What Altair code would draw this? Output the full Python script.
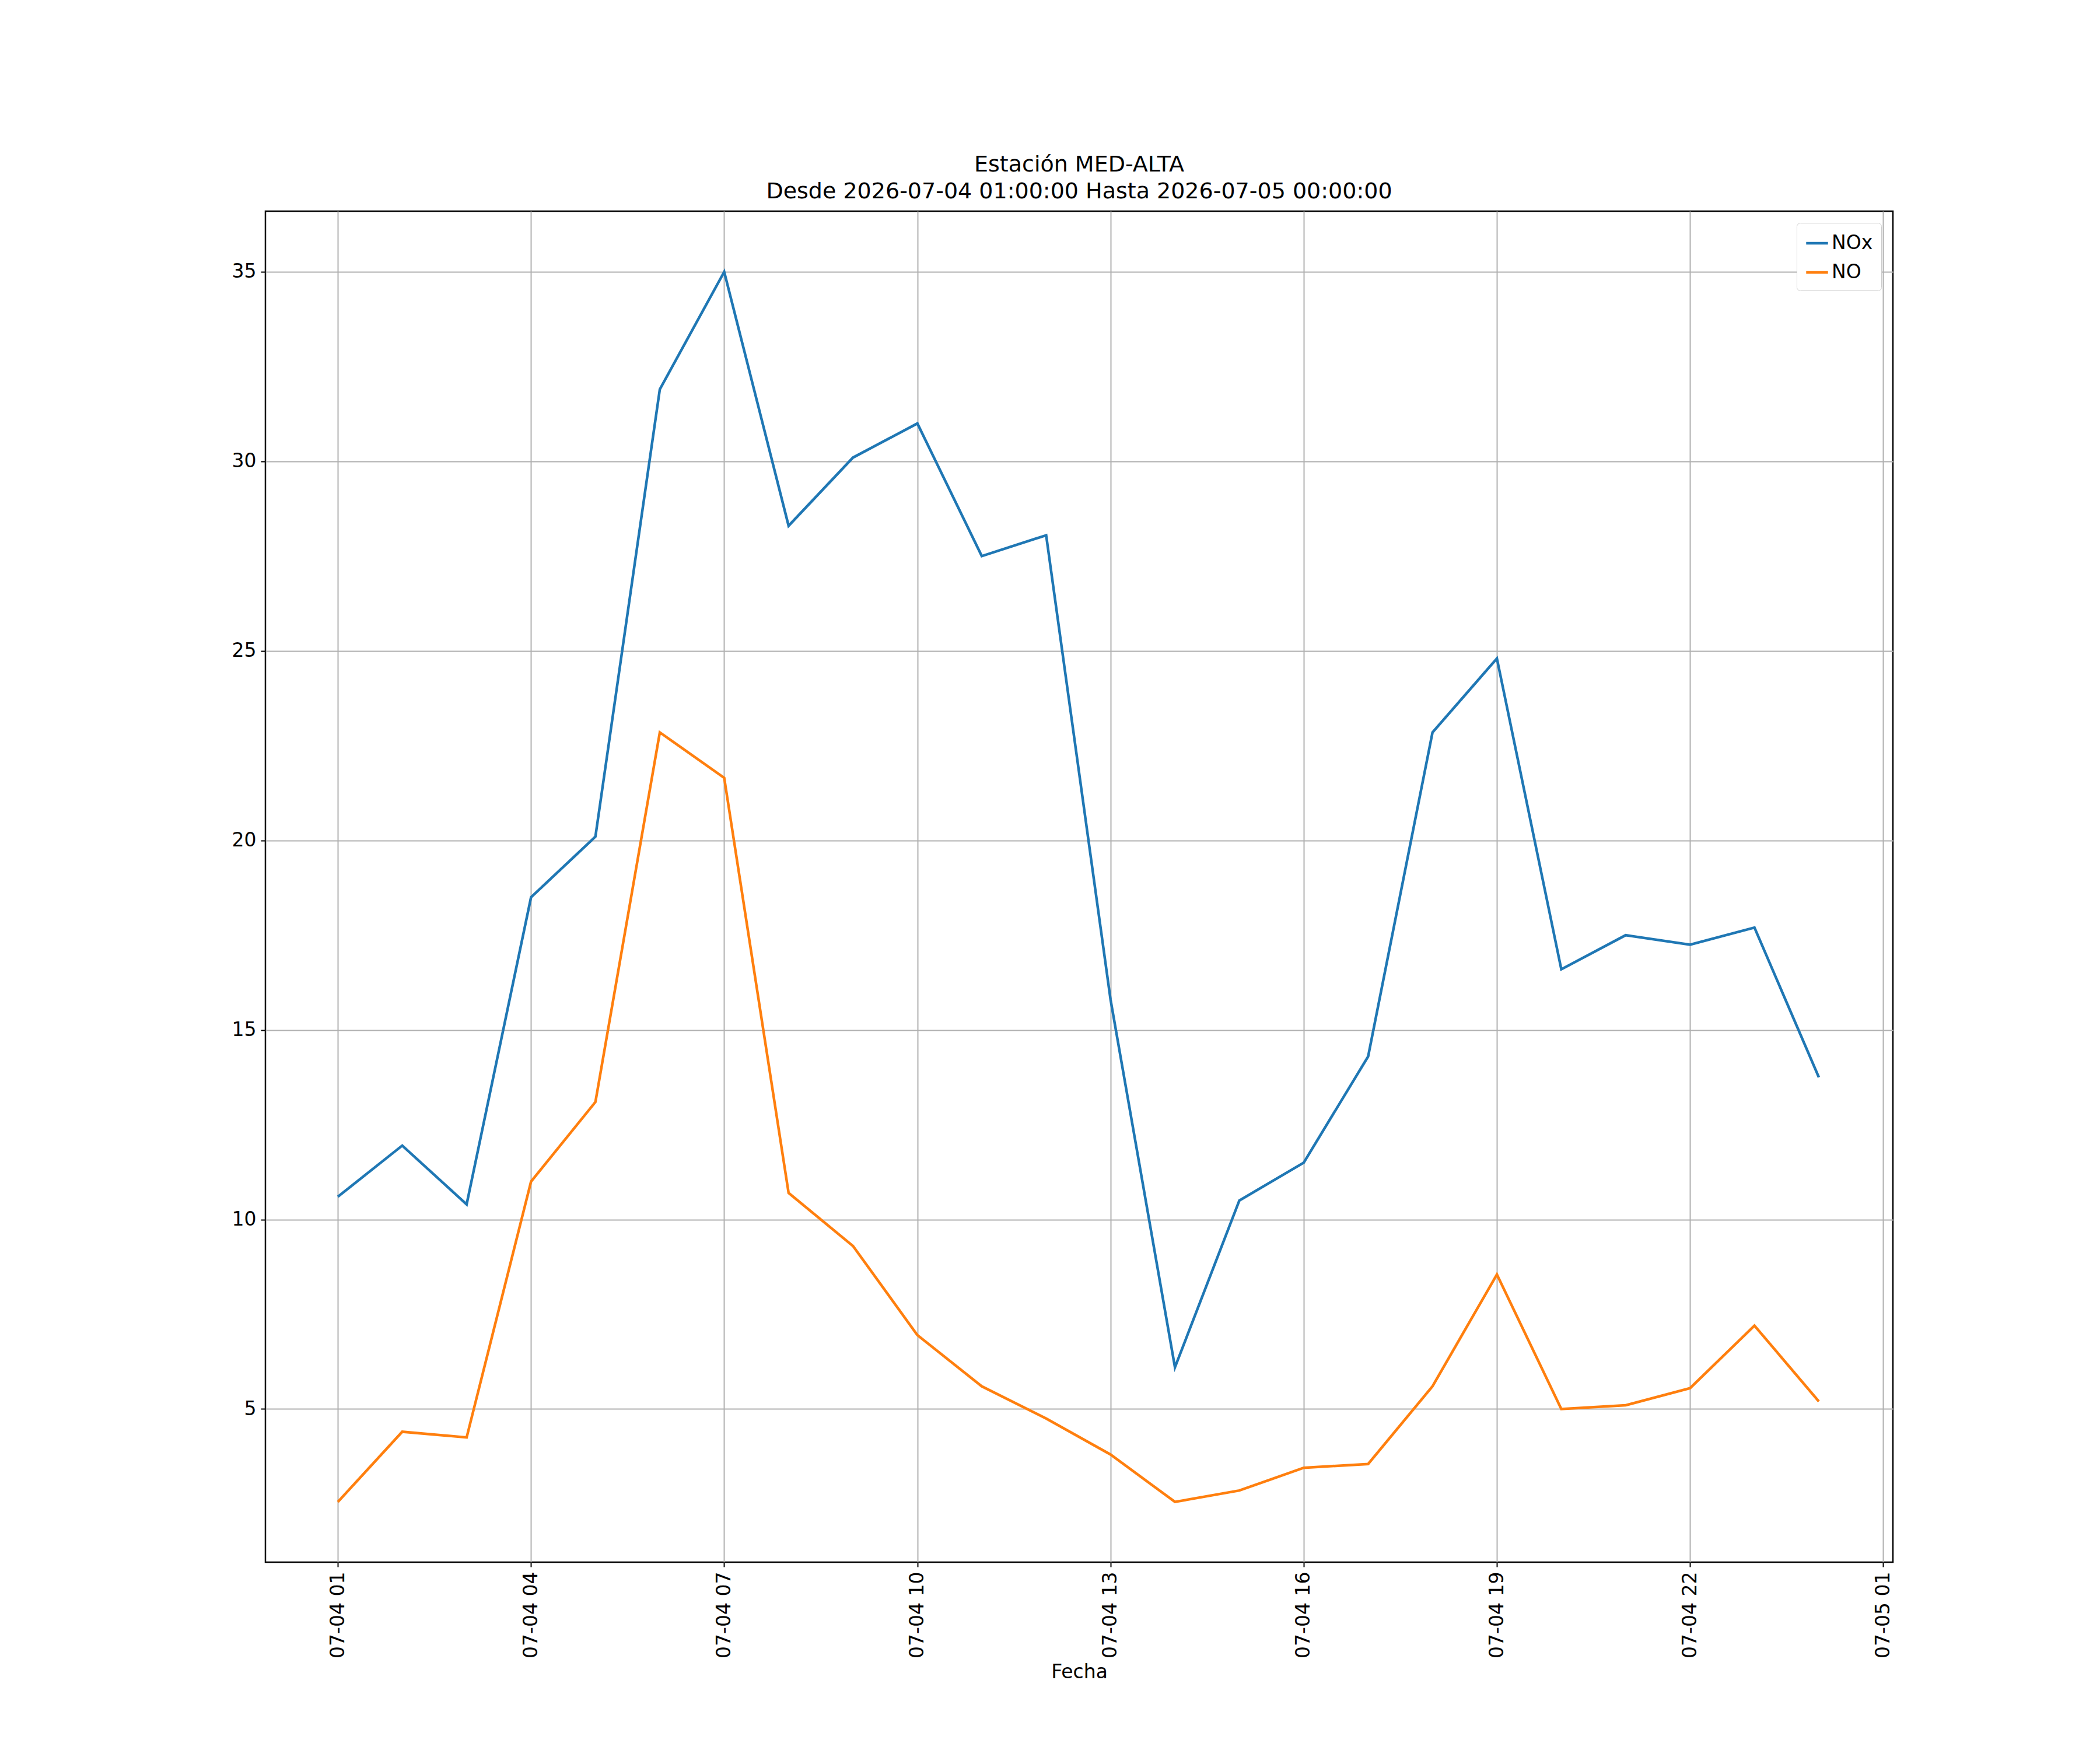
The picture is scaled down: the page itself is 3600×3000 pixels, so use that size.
import altair as alt
import pandas as pd

hours = pd.date_range("2026-07-04 01:00:00", "2026-07-05 00:00:00", freq="h").strftime("%Y-%m-%dT%H:%M:%S").tolist()
nox = [10.6, 11.95, 10.4, 18.5, 20.1, 31.9, 35.0, 28.3, 30.1, 31.0, 27.5, 28.05,
       15.8, 6.1, 10.5, 11.5, 14.3, 22.85, 24.8, 16.6, 17.5, 17.25, 17.7, 13.75]
no = [2.55, 4.4, 4.25, 11.0, 13.1, 22.85, 21.65, 10.7, 9.3, 6.95, 5.6, 4.75,
      3.8, 2.55, 2.85, 3.45, 3.55, 5.6, 8.55, 5.0, 5.1, 5.55, 7.2, 5.2]
tick_vals = ["2026-07-04T01:00:00", "2026-07-04T04:00:00", "2026-07-04T07:00:00",
             "2026-07-04T10:00:00", "2026-07-04T13:00:00", "2026-07-04T16:00:00",
             "2026-07-04T19:00:00", "2026-07-04T22:00:00", "2026-07-05T01:00:00"]

df = pd.DataFrame({"Fecha": hours * 2, "valor": nox + no,
                   "serie": ["NOx"] * len(nox) + ["NO"] * len(no)})

F = "DejaVu Sans"
FS = 33
chart = alt.Chart(df).mark_line(strokeWidth=4.5).encode(
    x=alt.X("Fecha:T", title="Fecha",
            scale=alt.Scale(domain=["2026-07-03T23:52:30", "2026-07-05T01:09:00"]),
            axis=alt.Axis(values=[alt.DateTime(year=int(t[:4]), month=int(t[5:7]), date=int(t[8:10]), hours=int(t[11:13])) for t in tick_vals],
                          format="%m-%d %H", labelAngle=270, labelAlign="right", labelBaseline="middle",
                          labelFontSize=FS, titleFontSize=FS, labelFont=F, titleFont=F,
                          labelColor="black", titleColor="black", titleFontWeight="normal",
                          tickColor="black", tickSize=8, tickWidth=2, domain=False,
                          grid=True, gridColor="#b0b0b0", gridWidth=2, labelPadding=8,
                          titlePadding=8, labelFlush=False, labelOverlap=False)),
    y=alt.Y("valor:Q", title=None,
            scale=alt.Scale(domain=[0.96, 36.6], nice=False, zero=False),
            axis=alt.Axis(values=[5, 10, 15, 20, 25, 30, 35], labelFontSize=FS, labelFont=F,
                          labelColor="black", tickColor="black", tickSize=8, tickWidth=2,
                          domain=False, grid=True, gridColor="#b0b0b0", gridWidth=2, labelPadding=8)),
    color=alt.Color("serie:N", sort=["NOx", "NO"], title=None,
                    scale=alt.Scale(domain=["NOx", "NO"], range=["#1f77b4", "#ff7f0e"]),
                    legend=alt.Legend(orient="top-right", offset=20, symbolType="stroke",
                                      symbolStrokeWidth=4.5, symbolSize=1400, labelFontSize=FS,
                                      labelFont=F, labelColor="black", strokeColor="#cccccc",
                                      fillColor="white", padding=14, cornerRadius=6,
                                      rowPadding=12)),
).properties(
    width=2790, height=2316,
    title=alt.Title(["Estación MED-ALTA", "Desde 2026-07-04 01:00:00 Hasta 2026-07-05 00:00:00"],
                    fontSize=38, font=F, fontWeight="normal", color="black", offset=14, lineHeight=46),
    autosize=alt.AutoSizeParams(type="none"),
    padding={"left": 447, "top": 354, "right": 340, "bottom": 310},
).configure_view(stroke="black", strokeWidth=2.5)

chart.save("out.html", embed_options={"renderer": "svg", "actions": False})
